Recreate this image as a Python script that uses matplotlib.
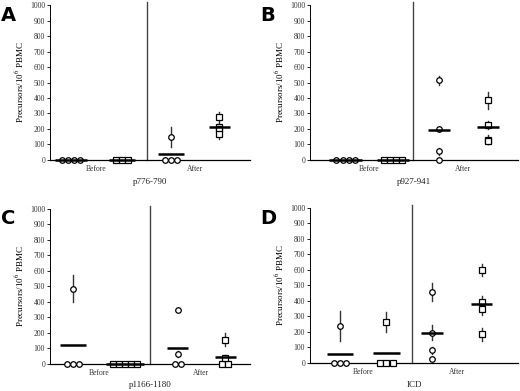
import matplotlib.pyplot as plt
import numpy as np

plt.rcParams['font.family'] = ['Liberation Serif', 'DejaVu Serif']
plt.rcParams['mathtext.fontset'] = 'stix'

# groups per panel: before-circle, before-square, after-circle, after-square
A_vals = [[0, 0, 0, 0], [0, 0, 0], [0, 0, 0, 150], [275, 215, 200, 170]]
A_err = [[0, 0, 0, 0], [0, 0, 0], [0, 0, 0, 65], [35, 20, 20, 35]]
A_med = [0, 0, 40, 210]

B_vals = [[0, 0, 0, 0], [0, 0, 0, 0], [515, 200, 55, 0], [385, 225, 130, 120]]
B_err = [[0, 0, 0, 0], [0, 0, 0, 0], [28, 8, 25, 0], [55, 25, 30, 20]]
B_med = [0, 0, 195, 215]

C_vals = [[0, 0, 0, 485], [0, 0, 0, 0, 0], [0, 0, 345, 60], [0, 0, 155, 35]]
C_err = [[0, 0, 0, 85], [0, 0, 0, 0, 0], [0, 0, 0, 20], [0, 0, 42, 20]]
C_med = [120, 0, 100, 45]

D_vals = [[0, 0, 0, 235], [0, 0, 0, 265], [460, 195, 80, 25], [600, 390, 345, 185]]
D_err = [[0, 0, 0, 97], [0, 0, 0, 65], [58, 50, 25, 0], [40, 40, 35, 42]]
D_med = [60, 65, 190, 380]

peptides = ['p776-790', 'p927-941', 'p1166-1180', 'ICD']
letters = ['A', 'B', 'C', 'D']
markers = ['o', 's', 'o', 's']

panels = [
    (A_vals, A_err, A_med, [0.42, 1.44, 2.42, 3.38], 1.94, [0.096, 0.591, 0.385, 0.396]),
    (B_vals, B_err, B_med, [0.69, 1.6, 2.48, 3.42], 1.98, [0.596, 0.591, 0.40, 0.396]),
    (C_vals, C_err, C_med, [0.46, 1.5, 2.55, 3.5], 2.0, [0.096, 0.07, 0.385, 0.396]),
    (D_vals, D_err, D_med, [0.58, 1.47, 2.35, 3.3], 1.96, [0.596, 0.072, 0.40, 0.396]),
]

fig = plt.figure(figsize=(5.2, 3.91), dpi=100)

for i, (vals, errs, meds, xs, divider, rect) in enumerate(panels):
    ax = fig.add_axes(rect)
    for g in range(4):
        v = np.array(vals[g], dtype=float)
        e = np.array(errs[g], dtype=float)
        zeros = v == 0
        nz = int(zeros.sum())
        xpos = np.full(len(v), xs[g])
        xpos[zeros] = xs[g] + (np.arange(nz) - (nz - 1) / 2) * 0.12
        for x, y, err in zip(xpos, v, e):
            if err > 0:
                ax.plot([x, x], [y - err, y + err], color='#333333', lw=1.0,
                        zorder=2, clip_on=False)
        ax.plot(xpos, v, linestyle='none', marker=markers[g], ms=4.0,
                mfc='white', mec='black', mew=0.9, zorder=3, clip_on=False)
        w = max(0.42, 0.12 * nz + 0.15)
        ax.plot([xs[g] - w / 2, xs[g] + w / 2], [meds[g], meds[g]],
                color='black', lw=1.8, zorder=4, solid_capstyle='butt', clip_on=False)
    ax.axvline(divider, ymin=0, ymax=1.02, color='#444444', lw=1.0, clip_on=False)
    ax.set_xlim(0, 4)
    ax.set_ylim(0, 1000)
    ax.set_yticks(np.arange(0, 1001, 100))
    ax.tick_params(axis='y', labelsize=5.5, length=2.5, width=0.6, pad=1,
                   labelcolor='#333333')
    ax.set_xticks([(xs[0] + xs[1]) / 2, (xs[2] + xs[3]) / 2])
    ax.set_xticklabels(['Before', 'After'])
    ax.tick_params(axis='x', labelsize=5.5, length=0, pad=4, labelcolor='#333333')
    ax.set_xlabel(peptides[i], fontsize=6.5, labelpad=3, color='#222222')
    ax.set_ylabel('Precursors/10$^6$ PBMC', fontsize=6.5, labelpad=3)
    for s in ['top', 'right']:
        ax.spines[s].set_visible(False)
    ax.spines['left'].set_linewidth(0.7)
    ax.spines['bottom'].set_linewidth(0.9)
    fig.text(rect[0] - 0.095, rect[1] + rect[3] - 0.05, letters[i],
             fontsize=14, fontweight='bold', family='DejaVu Sans',
             va='bottom', ha='left')

fig.savefig('out.png', dpi=100)
